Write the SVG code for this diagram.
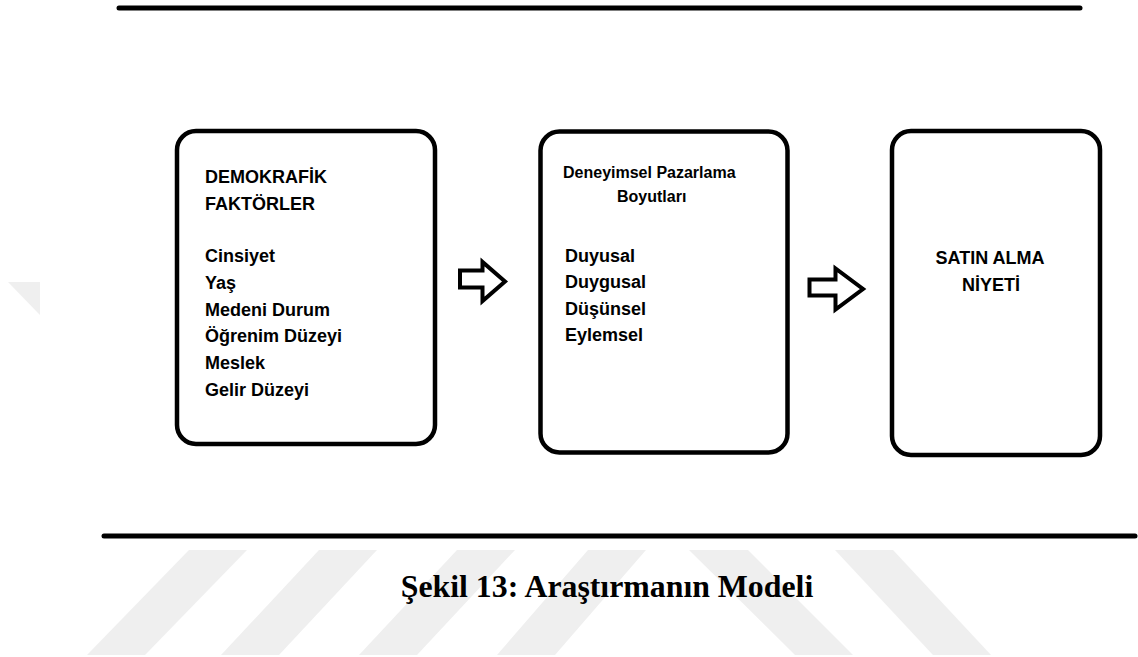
<svg xmlns="http://www.w3.org/2000/svg" width="1138" height="657" viewBox="0 0 1138 657">
  <style>
    .rule { stroke: #000; stroke-width: 5; stroke-linecap: round; }
    .box { fill: #fff; stroke: #000; stroke-width: 4.5; }
    .arrow { fill: #fff; stroke: #000; stroke-width: 4; stroke-linejoin: miter; }
    .lbl { font-family: "Liberation Sans", Arial, sans-serif; font-weight: bold; font-size: 18px; fill: #000; }
    .lbl-s { font-family: "Liberation Sans", Arial, sans-serif; font-weight: bold; font-size: 16px; fill: #000; }
    .caption { font-family: "Liberation Serif", "Times New Roman", serif; font-weight: bold; font-size: 31.8px; fill: #000; }
    .mark { fill: #efefef; }
  </style>

  <rect width="1138" height="657" fill="#fff"/>

  <!-- background watermark stripes -->
  <g id="watermark">
    <polygon class="mark" points="8,282 40,282 40,315"/>
    <polygon class="mark" points="189,550 247,550 145,655 87,655"/>
    <polygon class="mark" points="319,550 377,550 279,655 221,655"/>
    <polygon class="mark" points="457,550 515,550 417,655 359,655"/>
    <polygon class="mark" points="588,550 646,550 555,655 497,655"/>
    <polygon class="mark" points="689,550 748,550 853,655 795,655"/>
    <polygon class="mark" points="835,550 893,550 991,655 933,655"/>
  </g>

  <!-- horizontal rules -->
  <line class="rule" x1="119" y1="8" x2="1080" y2="8"/>
  <line class="rule" x1="104" y1="536" x2="1135" y2="536"/>

  <g id="node-demografik">
    <rect class="box" x="177" y="131" width="258" height="313" rx="19" ry="19"/>
    <text class="lbl" x="205" y="183">DEMOKRAFİK</text>
    <text class="lbl" x="205" y="210">FAKTÖRLER</text>
    <text class="lbl" x="205" y="262">Cinsiyet</text>
    <text class="lbl" x="205" y="289">Yaş</text>
    <text class="lbl" x="205" y="316">Medeni Durum</text>
    <text class="lbl" x="205" y="342">Öğrenim Düzeyi</text>
    <text class="lbl" x="205" y="369">Meslek</text>
    <text class="lbl" x="205" y="396">Gelir Düzeyi</text>
  </g>

  <g id="node-deneyimsel">
    <rect class="box" x="540.5" y="131.5" width="247" height="321" rx="19" ry="19"/>
    <text class="lbl-s" x="563" y="178">Deneyimsel Pazarlama</text>
    <text class="lbl-s" x="617" y="202">Boyutları</text>
    <text class="lbl" x="565" y="262">Duyusal</text>
    <text class="lbl" x="565" y="288">Duygusal</text>
    <text class="lbl" x="565" y="315">Düşünsel</text>
    <text class="lbl" x="565" y="341">Eylemsel</text>
  </g>

  <g id="node-satin-alma">
    <rect class="box" x="892" y="131" width="208" height="324" rx="19" ry="19"/>
    <text class="lbl" x="990" y="264" text-anchor="middle">SATIN ALMA</text>
    <text class="lbl" x="991" y="291" text-anchor="middle">NİYETİ</text>
  </g>

  <!-- block arrows between the stages -->
  <g id="connectors">
    <polygon class="arrow" points="460,270.5 482.5,270.5 482.5,262 505,281.5 482.5,301 482.5,287.5 460,287.5"/>
    <polygon class="arrow" points="809.5,279.5 835.5,279.5 835.5,268.5 863,289 835.5,309.5 835.5,295.5 809.5,295.5"/>
  </g>

  <text class="caption" x="607" y="597" text-anchor="middle">Şekil 13: Araştırmanın Modeli</text>
</svg>
